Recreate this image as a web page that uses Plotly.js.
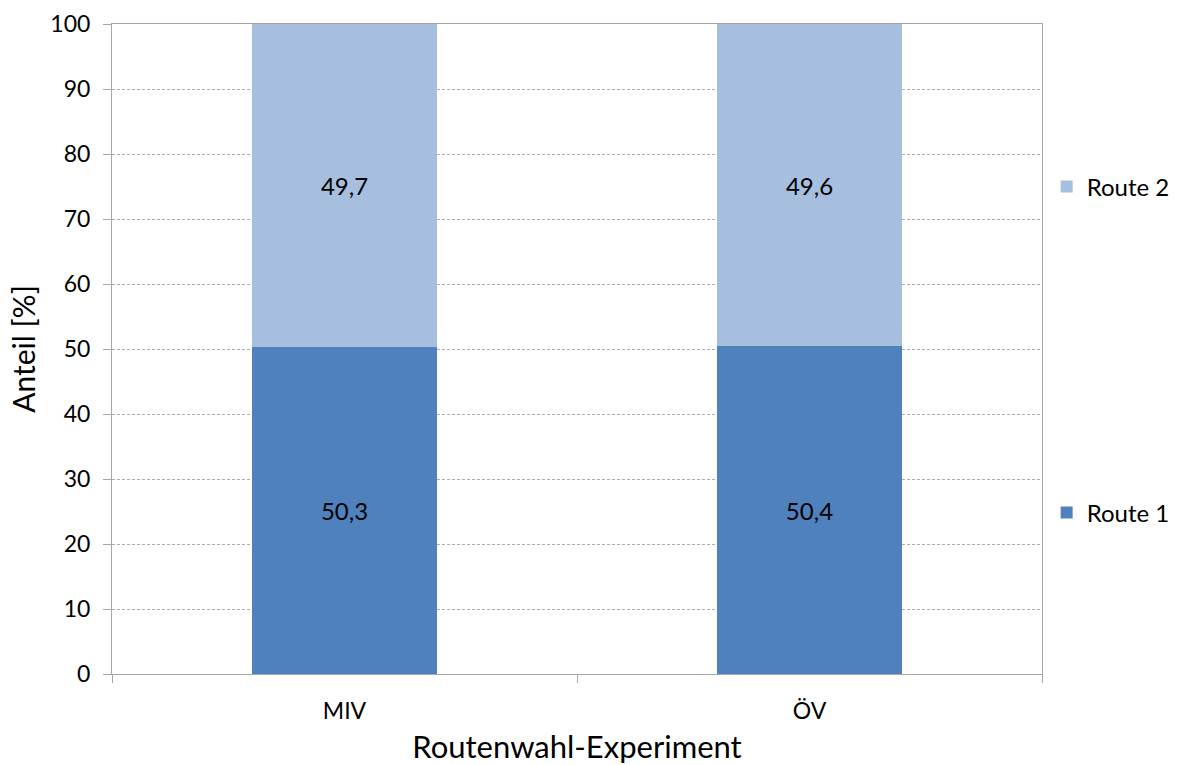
<!DOCTYPE html>
<html>
<head>
<meta charset="utf-8">
<script src="https://cdn.plot.ly/plotly-3.0.1.min.js"></script>
<style>html,body{margin:0;padding:0;background:#fff;}#chart{width:1177px;height:765px;}</style>
</head>
<body>
<div id="chart"></div>
<script>
const categories = ["MIV", "ÖV"];
const route1 = [50.3, 50.4];
const route2 = [49.7, 49.6];
const yTicks = [0, 10, 20, 30, 40, 50, 60, 70, 80, 90, 100];

const fmt = v => v.toFixed(1).replace('.', ',');
const FONT = "Lato, 'Open Sans', sans-serif";

const traces = [
  {
    type: 'bar', name: 'Route 1', x: categories, y: route1,
    text: route1.map(fmt), textposition: 'inside', insidetextanchor: 'middle',
    textfont: {family: FONT, size: 24, color: '#000'},
    marker: {color: '#4F81BD'}, legend: 'legend2', hoverinfo: 'none'
  },
  {
    type: 'bar', name: 'Route 2', x: categories, y: route2,
    text: route2.map(fmt), textposition: 'inside', insidetextanchor: 'middle',
    textfont: {family: FONT, size: 24, color: '#000'},
    marker: {color: '#A7BFDE'}, legend: 'legend', hoverinfo: 'none'
  }
];

const layout = {
  width: 1177, height: 765,
  margin: {l: 112, r: 135, t: 24, b: 91, autoexpand: false},
  barmode: 'stack',
  bargap: 0.602,
  paper_bgcolor: '#fff', plot_bgcolor: '#fff',
  font: {family: FONT, size: 24, color: '#000'},
  showlegend: true,
  xaxis: {
    type: 'category',
    tickson: 'boundaries',
    ticks: 'outside', ticklen: 8, tickcolor: '#A6A6A6', tickwidth: 1,
    showline: true, linecolor: '#A6A6A6', linewidth: 1, mirror: true,
    showgrid: false, zeroline: false,
    tickfont: {family: FONT, size: 23, color: '#000'},
    ticklabelstandoff: 16,
    title: {text: 'Routenwahl-Experiment', font: {family: FONT, size: 31, color: '#000'}, standoff: 14}
  },
  yaxis: {
    range: [0, 100],
    tickvals: yTicks,
    ticktext: yTicks.map(String),
    ticks: 'outside', ticklen: 8, tickcolor: '#A6A6A6', tickwidth: 1,
    showline: true, linecolor: '#A6A6A6', linewidth: 1, mirror: true,
    showgrid: true, gridcolor: '#ADADAD', griddash: '3px,2px', gridwidth: 1,
    zeroline: false,
    tickfont: {family: FONT, size: 23, color: '#000'},
    ticklabelstandoff: 8,
    title: {text: 'Anteil [%]', font: {family: FONT, size: 30, color: '#000'}, standoff: 5}
  },
  legend: {
    x: 1.005, xanchor: 'left', yanchor: 'middle',
    font: {family: FONT, size: 24, color: '#000'}, bgcolor: 'rgba(0,0,0,0)',
    itemwidth: 30
  },
  legend2: {
    x: 1.005, xanchor: 'left', yanchor: 'middle',
    font: {family: FONT, size: 24, color: '#000'}, bgcolor: 'rgba(0,0,0,0)',
    itemwidth: 30
  }
};
// legend vertical positions in paper coordinates (plot area: 24..674 px)
layout.legend.y = (674 - 187) / 650;
layout.legend2.y = (674 - 513) / 650;

Plotly.newPlot('chart', traces, layout, {displayModeBar: false, staticPlot: true});
</script>
</body>
</html>
